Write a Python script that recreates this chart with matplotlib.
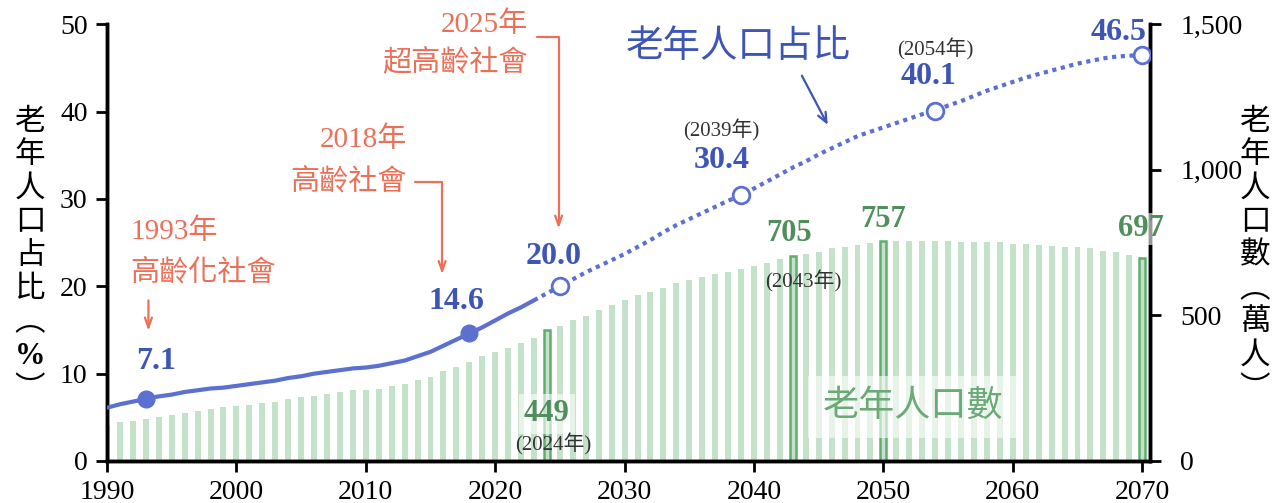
import numpy as np
import matplotlib
matplotlib.use('Agg')
import matplotlib.pyplot as plt
from matplotlib.ticker import StrMethodFormatter

plt.rcParams['font.family'] = ['Liberation Serif', 'Noto Sans CJK TC']

# --- Data ---
years = list(range(1990, 2071))

# elderly population (10k persons), right axis
elderly_count = [124, 133, 139, 144, 152, 159, 164, 172, 179, 184,
                 189, 192, 198, 204, 213, 219, 224, 230, 238, 243,
                 244, 248, 259, 264, 278, 290, 310, 324, 339, 361,
                 375, 389, 404, 424, 449, 465, 484, 499, 520, 535,
                 554, 570, 580, 595, 611, 621, 631, 641, 650, 661,
                 670, 680, 694, 705, 711, 719, 731, 736, 742, 750,
                 757, 755, 755, 754, 754, 754, 753, 753, 752, 751,
                 745, 745, 742, 740, 736, 736, 731, 722, 717, 708,
                 697]

# elderly share (%), left axis
elderly_pct = [6.1, 6.5, 6.8, 7.1, 7.4, 7.6, 7.9, 8.1, 8.3, 8.4,
               8.6, 8.8, 9.0, 9.2, 9.5, 9.7, 10.0, 10.2, 10.4, 10.6,
               10.7, 10.9, 11.2, 11.5, 12.0, 12.5, 13.2, 13.9, 14.6, 15.3,
               16.1, 16.9, 17.6, 18.4, 19.2, 20.0, 20.8, 21.6, 22.3, 23.0,
               23.7, 24.5, 25.3, 26.2, 27.0, 27.7, 28.4, 29.1, 29.8, 30.4,
               31.2, 32.0, 32.8, 33.6, 34.3, 35.1, 35.8, 36.5, 37.2, 37.7,
               38.2, 38.7, 39.2, 39.7, 40.1, 40.7, 41.2, 41.8, 42.4, 42.9,
               43.4, 43.9, 44.3, 44.7, 45.1, 45.5, 45.8, 46.1, 46.3, 46.4,
               46.5]

last_actual_year = 2023
filled_years = [1993, 2018]
hollow_years = [2025, 2039, 2054, 2070]
highlight_years = [2024, 2043, 2050, 2070]

# --- Colours ---
bar_color = '#c4e2ca'
bar_edge = '#5fae6e'
green_txt = '#4f8f5c'
line_blue = '#5b70d0'
blue_txt = '#3d55b5'
orange = '#ec6f58'

fig = plt.figure(figsize=(12.77, 5.03), dpi=100)
ax = fig.add_axes([0.0838, 0.0835, 0.8167, 0.8682])
ax2 = ax.twinx()
ax.set_zorder(ax2.get_zorder() + 1)
ax.patch.set_visible(False)

# --- Bars (right axis) ---
yrs = np.array(years)
cnt = np.array(elderly_count)
hl = np.isin(yrs, highlight_years)
ax2.bar(yrs[~hl], cnt[~hl], width=0.46, color=bar_color, linewidth=0, zorder=1)
ax2.bar(yrs[hl], cnt[hl], width=0.46, color=bar_color, edgecolor=bar_edge,
        linewidth=1.8, zorder=2)
ax2.set_ylim(0, 1500)
ax2.set_yticks([0, 500, 1000, 1500])
ax2.yaxis.set_major_formatter(StrMethodFormatter('{x:,.0f}'))

# --- Line (left axis) ---
pct = np.array(elderly_pct)
m_act = yrs <= last_actual_year
m_proj = yrs >= last_actual_year
ax.plot(yrs[m_act], pct[m_act], color=line_blue, lw=3, solid_capstyle='round', zorder=3)
ax.plot(yrs[m_proj], pct[m_proj], color=line_blue, lw=3, linestyle=(0, (1, 1.1)), zorder=3)
fm = np.isin(yrs, filled_years)
ax.plot(yrs[fm], pct[fm], 'o', color=line_blue, ms=12, zorder=4)
hm = np.isin(yrs, hollow_years)
ax.plot(yrs[hm], pct[hm], 'o', mfc='white', mec=line_blue, mew=2, ms=12, zorder=4)

ax.set_xlim(1990, 2070.6)
ax.set_ylim(0, 50)
ax.set_xticks(range(1990, 2071, 10))
ax.set_yticks(range(0, 51, 10))

for a in (ax, ax2):
    a.spines['top'].set_visible(False)
    for s in ('left', 'right', 'bottom'):
        a.spines[s].set_linewidth(2.5)
    a.tick_params(direction='out', length=8, width=2, labelsize=20, colors='black')
ax.tick_params(axis='y', pad=6)
ax.tick_params(axis='x', pad=6)
ax2.tick_params(axis='y', pad=14)

# --- Value labels ---
blue_labels = [(1993.8, 11.4, '7.1'), (2017.0, 18.3, '14.6'), (2024.5, 23.4, '20.0'),
               (2037.5, 34.4, '30.4'), (2053.5, 44.0, '40.1'), (2068.2, 49.1, '46.5')]
for x, y, s in blue_labels:
    ax.text(x, y, s, color=blue_txt, fontsize=23, fontweight='bold',
            ha='center', va='center', zorder=6, clip_on=False)

green_labels = [(2042.7, 26.0, '705'), (2050.0, 27.7, '757')]
for x, y, s in green_labels:
    ax.text(x, y, s, color=green_txt, fontsize=22, fontweight='bold',
            ha='center', va='center', zorder=6)
ax.text(2069.9, 26.6, '697', color=green_txt, fontsize=22, fontweight='bold',
        ha='center', va='center', zorder=6, clip_on=False,
        bbox=dict(facecolor='white', alpha=0.6, edgecolor='none', pad=1))
ax.text(2024.0, 5.4, '449', color=green_txt, fontsize=22, fontweight='bold',
        ha='center', va='center', zorder=6,
        bbox=dict(facecolor='white', alpha=0.6, edgecolor='none', pad=4))

year_notes = [(2037.5, 37.9, '(2039年)'), (2054.0, 47.1, '(2054年)'),
              (2043.8, 20.6, '(2043年)'), (2024.5, 1.95, '(2024年)')]
for x, y, s in year_notes:
    ax.text(x, y, s, color='#333333', fontsize=15, ha='center', va='center', zorder=6)

ax.text(2052.3, 6.2, '老年人口數', color='#6aaa76', fontsize=26, ha='center',
        va='center', zorder=6,
        bbox=dict(facecolor='white', alpha=0.6, edgecolor='none', boxstyle='square,pad=0.4'))

# series title with arrow
ax.text(2038.8, 47.3, '老年人口占比', color=blue_txt, fontsize=27, ha='center',
        va='center', zorder=6, clip_on=False)
ax.annotate('', xy=(2045.8, 38.2), xytext=(2043.6, 44.4), zorder=6,
            arrowprops=dict(arrowstyle='->,head_length=0.7,head_width=0.3',
                            color=blue_txt, lw=1.6))

# --- Milestone annotations ---
ax.text(1991.8, 26.2, '1993年', color=orange, fontsize=21, ha='left', va='center')
ax.text(1991.8, 21.6, '高齡化社會', color=orange, fontsize=21, ha='left', va='center')
ax.annotate('', xy=(1993.2, 14.6), xytext=(1993.2, 18.7),
            arrowprops=dict(arrowstyle='->,head_length=0.7,head_width=0.25',
                            color=orange, lw=1.6))

ax.text(2013.2, 36.8, '2018年', color=orange, fontsize=21, ha='right', va='center')
ax.text(2013.2, 32.0, '高齡社會', color=orange, fontsize=21, ha='right', va='center')
ax.annotate('', xy=(2015.9, 21.4), xytext=(2013.8, 32.0),
            arrowprops=dict(arrowstyle='->,head_length=0.7,head_width=0.25',
                            connectionstyle='angle,angleA=0,angleB=90,rad=0',
                            color=orange, lw=1.6, shrinkA=0, shrinkB=0))

ax.text(2022.5, 49.9, '2025年', color=orange, fontsize=21, ha='right', va='center',
        clip_on=False)
ax.text(2022.5, 45.7, '超高齡社會', color=orange, fontsize=21, ha='right', va='center')
ax.annotate('', xy=(2024.9, 26.6), xytext=(2023.2, 48.6), annotation_clip=False,
            arrowprops=dict(arrowstyle='->,head_length=0.7,head_width=0.25',
                            connectionstyle='angle,angleA=0,angleB=90,rad=0',
                            color=orange, lw=1.6, shrinkA=0, shrinkB=0))

# --- Vertical axis titles (stacked characters) ---
left_title = ['老', '年', '人', '口', '占', '比', '︵', '%', '︶']
right_title = ['老', '年', '人', '口', '數', '︵', '萬', '人', '︶']
for i, ch in enumerate(left_title):
    fig.text(30 / 1277, 1 - (122 + i * 33.5) / 503, ch, fontsize=22,
             ha='center', va='center', fontweight='bold' if ch == '%' else 'normal')
for i, ch in enumerate(right_title):
    fig.text(1255 / 1277, 1 - (122 + i * 33.5) / 503, ch, fontsize=22,
             ha='center', va='center')

fig.savefig('out.png', dpi=100)
